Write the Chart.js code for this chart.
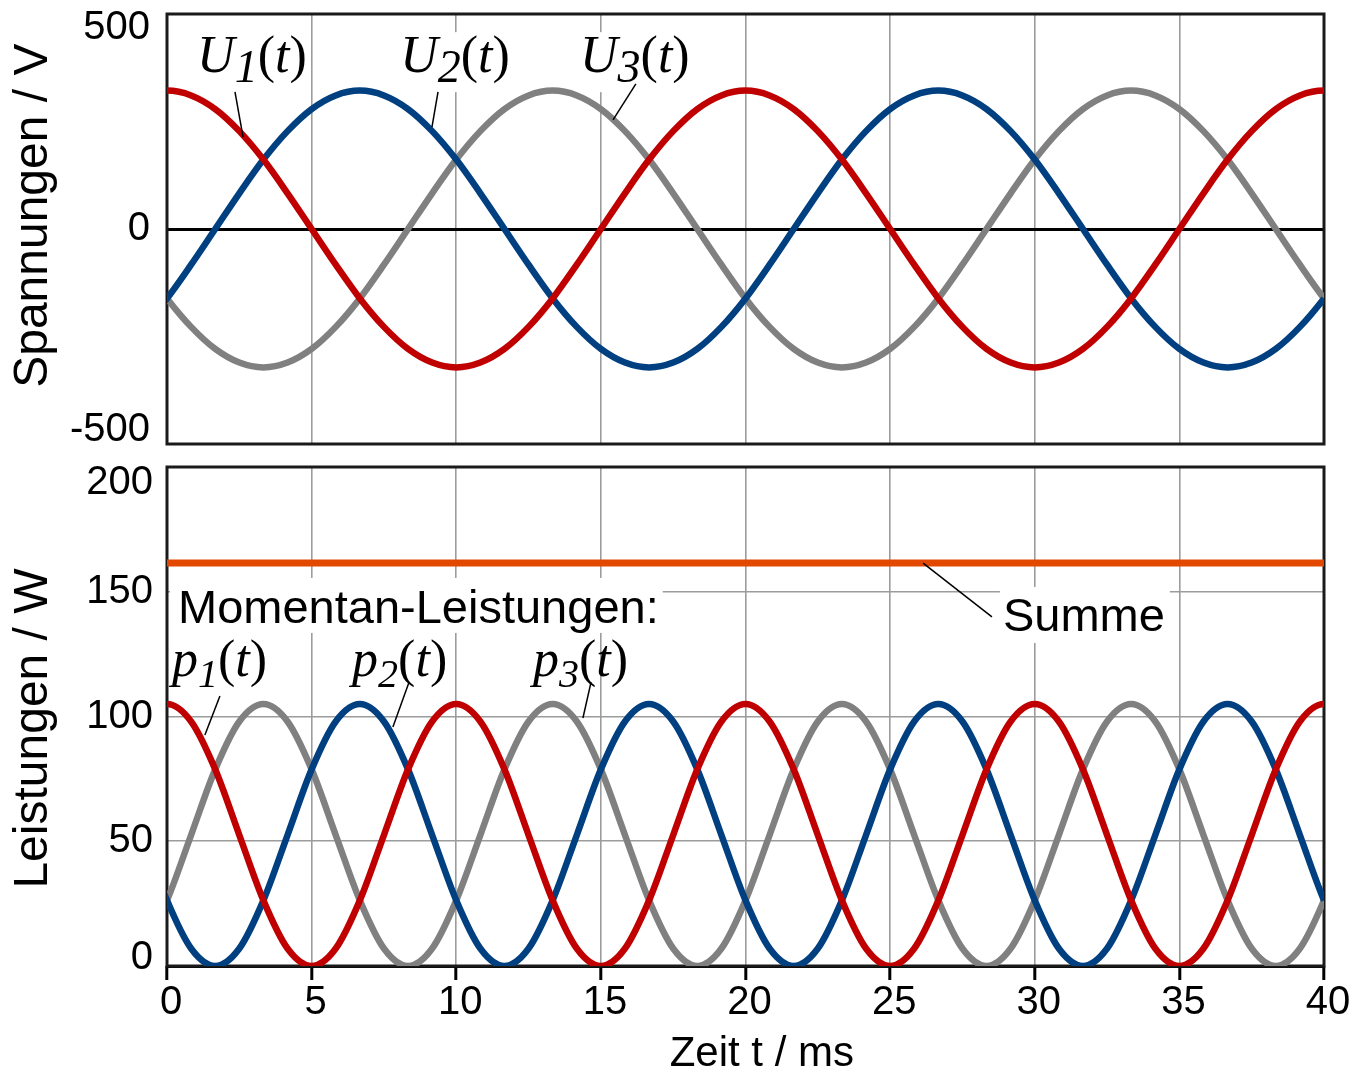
<!DOCTYPE html>
<html><head><meta charset="utf-8">
<script src="https://cdn.jsdelivr.net/npm/chart.js@4/dist/chart.umd.min.js"></script>
<style>
html,body{margin:0;padding:0;background:#fff;}
#wrap{position:relative;width:1357px;height:1075px;overflow:hidden;}
canvas{position:absolute;left:0;top:0;}
</style></head><body>
<div id="wrap"><canvas id="cTop" width="1357" height="1075"></canvas><canvas id="cBot" width="1357" height="1075"></canvas></div>
<script>
// ---- data (one extra sample beyond each edge keeps the curve smooth at the border) ----
const timeMs = [-0.833,0,0.833,1.667,2.5,3.333,4.167,5,5.833,6.667,7.5,8.333,9.167,
  10,10.833,11.667,12.5,13.333,14.167,15,15.833,16.667,17.5,18.333,19.167,
  20,20.833,21.667,22.5,23.333,24.167,25,25.833,26.667,27.5,28.333,29.167,
  30,30.833,31.667,32.5,33.333,34.167,35,35.833,36.667,37.5,38.333,39.167,40,40.833];

const u1 = [333,345,333,299,244,173,89,0,-89,-173,-244,-299,-333,-345,-333,-299,-244,-173,-89,0,89,173,244,299,333,
  345,333,299,244,173,89,0,-89,-173,-244,-299,-333,-345,-333,-299,-244,-173,-89,0,89,173,244,299,333,345,333];
const u2 = [-244,-173,-89,0,89,173,244,299,333,
  345,333,299,244,173,89,0,-89,-173,-244,-299,-333,-345,-333,-299,-244,-173,-89,0,89,173,244,299,333,
  345,333,299,244,173,89,0,-89,-173,-244,-299,-333,-345,-333,-299,-244,-173,-89];
const u3 = [-89,-173,-244,-299,-333,-345,-333,-299,-244,-173,-89,0,89,173,244,299,333,
  345,333,299,244,173,89,0,-89,-173,-244,-299,-333,-345,-333,-299,-244,-173,-89,0,89,173,244,299,333,
  345,333,299,244,173,89,0,-89,-173,-244];

const p1 = [98,105,98,78.8,52.5,26.3,7,0,7,26.3,52.5,78.8,98,
  105,98,78.8,52.5,26.3,7,0,7,26.3,52.5,78.8,98,
  105,98,78.8,52.5,26.3,7,0,7,26.3,52.5,78.8,98,
  105,98,78.8,52.5,26.3,7,0,7,26.3,52.5,78.8,98,
  105,98];
const p2 = [52.5,26.3,7,0,7,26.3,52.5,78.8,98,
  105,98,78.8,52.5,26.3,7,0,7,26.3,52.5,78.8,98,
  105,98,78.8,52.5,26.3,7,0,7,26.3,52.5,78.8,98,
  105,98,78.8,52.5,26.3,7,0,7,26.3,52.5,78.8,98,
  105,98,78.8,52.5,26.3,7];
const p3 = [7,26.3,52.5,78.8,98,
  105,98,78.8,52.5,26.3,7,0,7,26.3,52.5,78.8,98,
  105,98,78.8,52.5,26.3,7,0,7,26.3,52.5,78.8,98,
  105,98,78.8,52.5,26.3,7,0,7,26.3,52.5,78.8,98,
  105,98,78.8,52.5,26.3,7,0,7,26.3,52.5];
const pSum = 161.5;
const sumTimes = [0, 40];

const timeTicks = [0,5,10,15,20,25,30,35,40];
const voltTicks = [-500, 0, 500];
const powerTicks = [0, 50, 100, 150, 200];

// ---- styles ----
const SANS = '"Liberation Sans", Arial, sans-serif';
const SERIF = '"Liberation Serif", "Times New Roman", serif';
const RED = '#C00000', BLUE = '#003F80', GRAY = '#808080', ORANGE = '#E24800';
const GRID = '#9c9c9c';
const LW = 6.5;

// annotation parts: [text, size, baseline shift, font style]
const uParts = n => [['U',52,0,'italic'],[n,46,10,'italic'],['(',52,0,'normal'],['t',52,0,'italic'],[')',52,0,'normal']];
const pParts = n => [['p',52,0,'italic'],[n,40,11,'italic'],['(',52,0,'normal'],['t',52,0,'italic'],[')',52,0,'normal']];

const topAnn = {
  labels: [
    {t:1.04, v:391, family:SERIF, parts:uParts('1'), box:[2,40,2,20]},
    {t:8.06, v:391, family:SERIF, parts:uParts('2'), box:[2,40,2,20]},
    {t:14.28, v:391, family:SERIF, parts:uParts('3'), box:[2,40,2,20]}
  ],
  leaders: [[2.35,342,2.63,229],[9.37,342,9.16,254],[16.21,362,15.42,272]]
};
const botAnn = {
  labels: [
    {t:0.38, v:137.5, family:SANS, parts:[['Momentan-Leistungen:',47,0,'normal']], box:[8,45,4,10]},
    {t:28.90, v:134.3, family:SANS, parts:[['Summe',47,0,'normal']], box:[3,44,5,12]},
    {t:0.17, v:116.2, family:SERIF, parts:pParts('1')},
    {t:6.40, v:116.2, family:SERIF, parts:pParts('2')},
    {t:12.65, v:116.2, family:SERIF, parts:pParts('3')}
  ],
  leaders: [[26.14,161.5,28.52,139.9],[1.83,108.2,1.31,92.6],[8.37,113.8,7.81,95.8],[14.66,113.8,14.38,99.4]]
};

function richWidth(ctx, l){
  let w = 0;
  for (const [txt,size,,st] of l.parts){ ctx.font = st+' '+size+'px '+l.family; w += ctx.measureText(txt).width; }
  return w;
}
function annotator(ann){
  return {
    id:'annotator',
    beforeDatasetsDraw(chart){
      const ctx = chart.ctx, a = chart.chartArea, sx = chart.scales.x, sy = chart.scales.y;
      ctx.save();
      ctx.fillStyle = '#fff';
      for (const l of ann.labels){
        if (!l.box) continue;
        const x = sx.getPixelForValue(l.t), y = sy.getPixelForValue(l.v);
        const w = richWidth(ctx, l);
        const [bl,bt,br,bb] = l.box;
        ctx.fillRect(x-bl, y-bt, w+bl+br, bt+bb);
      }
      ctx.strokeStyle = '#1a1a1a'; ctx.lineWidth = 3;
      ctx.strokeRect(a.left, a.top, a.right-a.left, a.bottom-a.top);
      ctx.restore();
    },
    afterDatasetsDraw(chart){
      const ctx = chart.ctx, sx = chart.scales.x, sy = chart.scales.y;
      ctx.save();
      ctx.strokeStyle = '#000'; ctx.lineWidth = 1.5;
      for (const [t0,v0,t1,v1] of ann.leaders){
        ctx.beginPath();
        ctx.moveTo(sx.getPixelForValue(t0), sy.getPixelForValue(v0));
        ctx.lineTo(sx.getPixelForValue(t1), sy.getPixelForValue(v1));
        ctx.stroke();
      }
      ctx.fillStyle = '#000'; ctx.textBaseline = 'alphabetic'; ctx.textAlign = 'left';
      for (const l of ann.labels){
        let x = sx.getPixelForValue(l.t); const y = sy.getPixelForValue(l.v);
        for (const [txt,size,dy,st] of l.parts){
          ctx.font = st+' '+size+'px '+l.family;
          ctx.fillText(txt, x, y+dy);
          x += ctx.measureText(txt).width;
        }
      }
      ctx.restore();
    }
  };
}

const pts = (xs, ys) => xs.map((t,i)=>({x:t, y:ys[i]}));
const lineDs = (label, data, color, w) => ({label, data, borderColor:color, backgroundColor:color,
  borderWidth:w, pointRadius:0, fill:false, cubicInterpolationMode:'monotone', borderCapStyle:'butt'});

const xTicksBuild = s => { s.ticks = timeTicks.map(v=>({value:v})); };

new Chart(document.getElementById('cTop'), {
  type:'line',
  data:{datasets:[
    lineDs('U1(t)', pts(timeMs,u1), RED, LW),
    lineDs('U2(t)', pts(timeMs,u2), BLUE, LW),
    lineDs('U3(t)', pts(timeMs,u3), GRAY, LW)
  ]},
  options:{
    responsive:false, animation:false, devicePixelRatio:1,
    layout:{padding:{left:0, top:14, right:33, bottom:631}},
    plugins:{legend:{display:false}, tooltip:{enabled:false}},
    scales:{
      x:{type:'linear', min:0, max:40, afterBuildTicks:xTicksBuild,
        ticks:{display:false},
        grid:{color:GRID, lineWidth:1.6, drawTicks:false},
        border:{display:false},
        afterFit(s){ s.height = 0; s.paddingLeft = 0; s.paddingRight = 0; }},
      y:{type:'linear', min:-536, max:536,
        afterBuildTicks(s){ s.ticks = voltTicks.map(v=>({value:v})); },
        ticks:{color:'#000', padding:17, font:{family:SANS, size:40}},
        grid:{color:c => (c.tick && c.tick.value === 0) ? '#000' : 'rgba(0,0,0,0)',
              lineWidth:c => (c.tick && c.tick.value === 0) ? 3 : 1, drawTicks:false},
        border:{display:false},
        title:{display:true, text:'  Spannungen / V', color:'#000',
          font:{family:SANS, size:48, lineHeight:1.2}, padding:{top:5, bottom:0}},
        afterFit(s){ s.width = 167; s.paddingTop = 0; s.paddingBottom = 0; }}
    }
  },
  plugins:[annotator(topAnn)]
});

new Chart(document.getElementById('cBot'), {
  type:'line',
  data:{datasets:[
    lineDs('Summe', pts(sumTimes, sumTimes.map(()=>pSum)), ORANGE, 7),
    lineDs('p1(t)', pts(timeMs,p1), RED, LW),
    lineDs('p2(t)', pts(timeMs,p2), BLUE, LW),
    lineDs('p3(t)', pts(timeMs,p3), GRAY, LW)
  ]},
  options:{
    responsive:false, animation:false, devicePixelRatio:1,
    layout:{padding:{left:0, top:467, right:33, bottom:0}},
    plugins:{legend:{display:false}, tooltip:{enabled:false}},
    scales:{
      x:{type:'linear', min:0, max:40, afterBuildTicks:xTicksBuild,
        ticks:{color:'#000', padding:3, labelOffset:4, maxRotation:0, autoSkip:false,
          font:{family:SANS, size:40, lineHeight:1}},
        grid:{color:GRID, lineWidth:1.6, drawTicks:true, tickLength:14, tickColor:'#000', tickWidth:3},
        border:{display:false},
        title:{display:true, text:'\u2002 Zeit t / ms', color:'#000',
          font:{family:SANS, size:42, lineHeight:1}, padding:{top:0, bottom:0}},
        afterFit(s){ s.height = 109; s.paddingLeft = 0; s.paddingRight = 0; }},
      y:{type:'linear', min:0, max:200,
        afterBuildTicks(s){ s.ticks = powerTicks.map(v=>({value:v})); },
        ticks:{color:'#000', padding:14,
          callback:v => v === 200 ? ['', '200'] : (v === 0 ? ['0', ''] : String(v)),
          font:c => ({family:SANS, size:40,
            lineHeight: (c.tick && c.tick.value === 200) ? '32px' : ((c.tick && c.tick.value === 0) ? '16px' : 1.2)})},
        grid:{color:c => !c.tick ? GRID : (c.tick.value === 0 ? '#000' : (c.tick.value === 200 ? 'rgba(0,0,0,0)' : GRID)),
              lineWidth:c => (c.tick && c.tick.value === 0) ? 3 : 1.6, drawTicks:false},
        border:{display:false},
        title:{display:true, text:'Leistungen / W\u2002', color:'#000',
          font:{family:SANS, size:48, lineHeight:1.2}, padding:{top:5, bottom:0}},
        afterFit(s){ s.width = 167; s.paddingTop = 0; s.paddingBottom = 0; }}
    }
  },
  plugins:[annotator(botAnn)]
});
</script>
</body></html>
